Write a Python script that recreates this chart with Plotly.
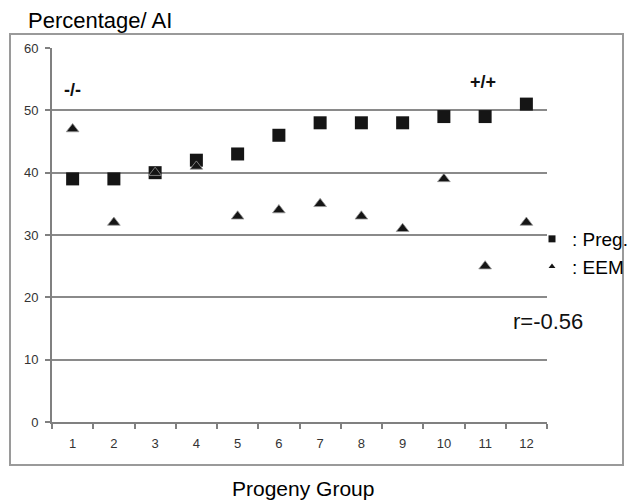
import plotly.graph_objects as go

groups = ["1", "2", "3", "4", "5", "6", "7", "8", "9", "10", "11", "12"]
preg = [39, 39, 40, 42, 43, 46, 48, 48, 48, 49, 49, 51]
eem = [47, 32, 40, 41, 33, 34, 35, 33, 31, 39, 25, 32]
y_ticks = [0, 10, 20, 30, 40, 50, 60]

FONT = "Liberation Sans, Arial, sans-serif"
OFF = 8  # the page body margin shifts the figure by 8px
W, H = 640 - OFF, 503 - OFF
# plot area in screen pixels: x 52..547, y 48..422
L = 52 - OFF
T = 48 - OFF
R = W - (547 - OFF)
B = H - (422 - OFF)

fig = go.Figure()
fig.add_trace(go.Scatter(
    x=groups, y=preg, mode="markers", name=": Preg.", showlegend=False,
    marker=dict(symbol="square", size=13, color="#151515", line=dict(width=0)),
))
fig.add_trace(go.Scatter(
    x=groups, y=eem, mode="markers", name=": EEM", showlegend=False,
    marker=dict(symbol="triangle-up", size=11, color="#151515",
                line=dict(width=0.8, color="#999999")),
))
# legend entries (small symbols as in the original)
fig.add_trace(go.Scatter(
    x=[None], y=[None], mode="markers", name=": Preg.",
    marker=dict(symbol="square", size=7, color="#151515"),
))
fig.add_trace(go.Scatter(
    x=[None], y=[None], mode="markers", name=": EEM",
    marker=dict(symbol="triangle-up", size=6, color="#151515"),
))

pw = W - L - R
ph = H - T - B


def px(xs):
    """screen pixel x -> paper x"""
    return (xs - OFF - L) / pw


def py(ys):
    """screen pixel y -> paper y"""
    return (H - B - (ys - OFF)) / ph


fig.update_layout(
    width=W, height=H,
    margin=dict(l=L, r=R, t=T, b=B, autoexpand=False),
    paper_bgcolor="white", plot_bgcolor="white",
    font=dict(family=FONT, color="#000000"),
    legend=dict(
        x=px(532), y=py(220), xanchor="left", yanchor="top",
        font=dict(size=19, color="#000000"),
        bgcolor="rgba(0,0,0,0)", borderwidth=0, itemwidth=30,
        tracegroupgap=0,
    ),
    xaxis=dict(
        type="category", categoryorder="array", categoryarray=groups,
        range=[-0.5, len(groups) - 0.5], autorange=False,
        tickson="boundaries", ticks="outside", ticklen=5, tickwidth=1.5,
        tickcolor="#808080", showline=True, linecolor="#808080", linewidth=2,
        showgrid=False, zeroline=False,
        tickfont=dict(size=13, color="#333333"), ticklabelstandoff=8,
        fixedrange=True,
    ),
    yaxis=dict(
        range=[0, 60], tickvals=y_ticks, ticks="outside", ticklen=5,
        tickwidth=1.5, tickcolor="#808080",
        showline=True, linecolor="#808080", linewidth=2,
        showgrid=True, gridcolor="#8a8a8a", gridwidth=1.6, zeroline=False,
        tickfont=dict(size=13, color="#333333"), ticklabelstandoff=4,
        fixedrange=True,
    ),
    shapes=[dict(
        type="rect", xref="paper", yref="paper",
        x0=px(10), x1=px(623), y0=py(465), y1=py(34),
        line=dict(color="#9a9a9a", width=2), fillcolor="rgba(0,0,0,0)",
        layer="below",
    )],
    annotations=[
        dict(text="Percentage/ AI", xref="paper", yref="paper",
             x=px(26), y=py(21), xanchor="left", yanchor="middle",
             showarrow=False, font=dict(size=22, color="#000000")),
        dict(text="Progeny Group", xref="paper", yref="paper",
             x=px(303), y=py(488), xanchor="center", yanchor="middle",
             showarrow=False, font=dict(size=21, color="#000000")),
        dict(text="<b>-/-</b>", xref="x", yref="y", x=groups.index("1"), y=53.3,
             xanchor="center", yanchor="middle", showarrow=False,
             font=dict(size=18, color="#111111")),
        dict(text="<b>+/+</b>", xref="x", yref="y", x=groups.index("11") - 0.05,
             y=54.5, xanchor="center", yanchor="middle", showarrow=False,
             font=dict(size=18, color="#111111")),
        dict(text="r=-0.56", xref="paper", yref="paper",
             x=px(548), y=py(321), xanchor="center", yanchor="middle",
             showarrow=False, font=dict(size=22, color="#111111")),
    ],
)

fig.write_html("out.html")
